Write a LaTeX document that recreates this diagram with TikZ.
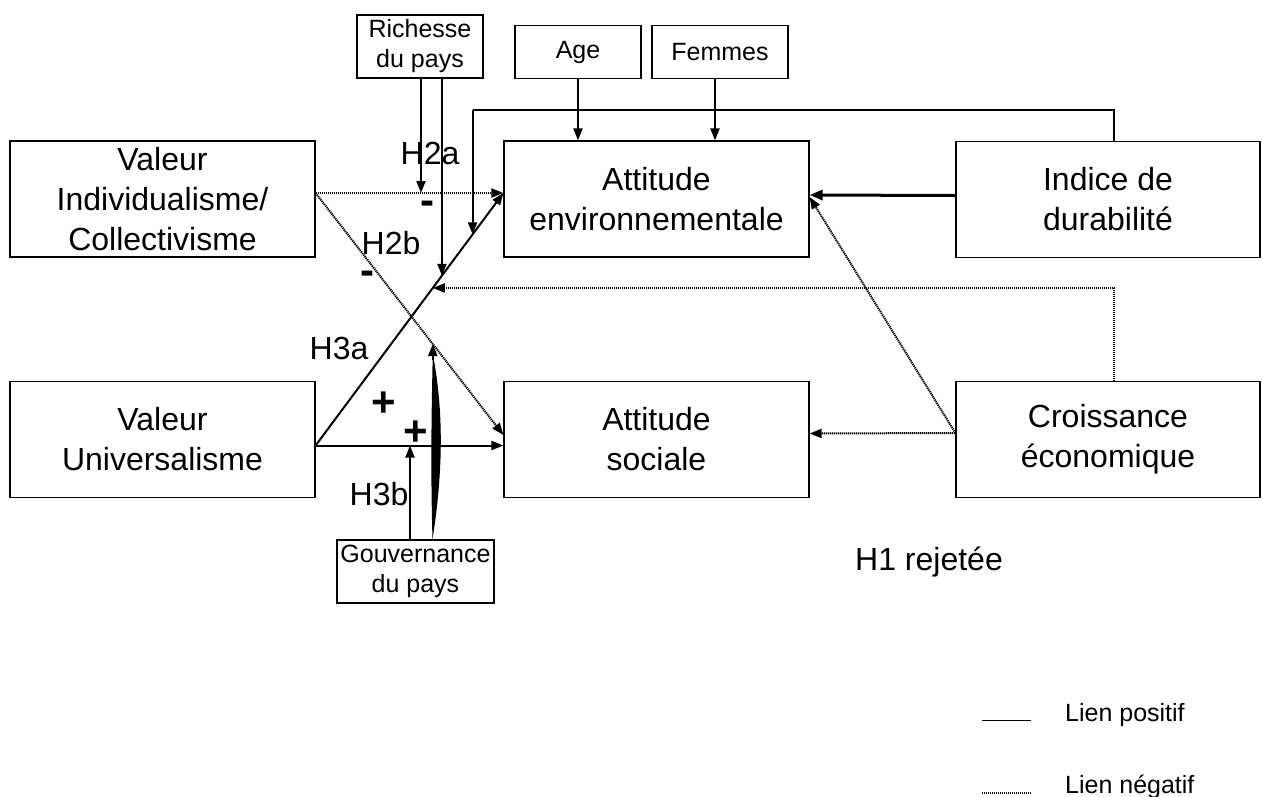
\documentclass[tikz,border=0pt]{standalone}
\usepackage{fontspec}
\setmainfont{Liberation Sans}
\usetikzlibrary{arrows.meta,calc}
\begin{document}
\begin{tikzpicture}[x=1pt,y=-1pt,
  bigbox/.style={draw, line width=1.2pt, minimum width=305pt, minimum height=116pt, align=center, font=\fontsize{32}{40}\selectfont, inner sep=0pt},
  smallbox/.style={draw, line width=1.2pt, align=center, font=\fontsize{25}{30}\selectfont, inner sep=0pt},
  arr/.style={line width=2pt, -{Triangle[length=12pt,width=9pt]}},
  dotline/.style={line width=2pt, dash pattern=on 1.2pt off 0.8pt},
  dotarr/.style={dotline, -{Triangle[length=12pt,width=9pt]}},
  lbl/.style={font=\fontsize{32}{38}\selectfont, inner sep=0pt},
  sign/.style={font=\fontsize{42}{42}\selectfont\bfseries, inner sep=0pt, anchor=base},
  legtext/.style={font=\fontsize{25}{30}\selectfont, inner sep=0pt, anchor=base west}]
\useasboundingbox (0,0) rectangle (1263,796);

% boxes
\node[bigbox] (vic) at (162.5,199) {Valeur\\Individualisme/\\Collectivisme};
\node[bigbox] (vu) at (162.5,439.5) {Valeur\\Universalisme};
\node[bigbox] (ae) at (656.5,199) {Attitude\\environnementale};
\node[bigbox] (as) at (656.5,439.5) {Attitude\\sociale};
\node[bigbox, minimum width=304pt] (ind) at (1108,199.5) {Indice de\\durabilité};
\node[bigbox, minimum width=304pt] (cro) at (1108,439.5) {Croissance\\économique};
\node[smallbox, minimum width=126pt, minimum height=63pt] (rich) at (420,46.5) {Richesse\\du pays};
\node[smallbox, minimum width=126pt, minimum height=53pt] (age) at (578,52) {Age};
\node[smallbox, minimum width=136pt, minimum height=53pt] (fem) at (720,52) {Femmes};
\node[smallbox, minimum width=157pt, minimum height=63pt] (gov) at (415.5,571.5) {Gouvernance\\du pays};

% helper coordinates
\coordinate (vicA) at ([yshift=6pt]vic.east);
\coordinate (aeA) at ([yshift=6pt]ae.west);
\coordinate (vuA) at ([yshift=-6pt]vu.east);
\coordinate (asA) at ([yshift=-6pt]as.west);
\coordinate (asB) at ([yshift=4.5pt]as.west);
\coordinate (h2b) at ($(vuA)!0.672!(aeA)$);
\coordinate (fb) at ($(vuA)!0.836!(aeA)$);
\coordinate (cg) at ($(vuA)!0.624!(aeA)$);
\coordinate (lensT) at ($(vicA)!0.624!(asB)$);
\coordinate (topY) at (0,110);
\coordinate (r1) at ([xshift=1pt]rich.south);
\coordinate (r2) at ([xshift=22pt]rich.south);
\coordinate (g1) at ([xshift=-5.5pt]gov.north);
\coordinate (g2) at ([xshift=17pt]gov.north);
\coordinate (indN) at ([xshift=6pt]ind.north);
\coordinate (croN) at ([xshift=6pt]cro.north);
\coordinate (fs) at ([xshift=-5pt]fem.south);
\coordinate (indW) at ([yshift=4pt]ind.west);
\coordinate (aeE) at ([yshift=4pt]ae.east);
\coordinate (aeE2) at ([yshift=2pt]ae.east);
\coordinate (croW) at ([yshift=6.5pt]cro.west);
\coordinate (asE) at ([yshift=6pt]as.east);

% connectors
\draw[dotarr] (vicA) -- (aeA);
\draw[dotarr] (vicA) -- (asB);
\draw[arr] (vuA) -- (aeA);
\draw[arr] (vuA) -- (asA);
\draw[arr] (r1) -- (r1 |- vicA);
\draw[arr] (r2) -- (r2 |- h2b);
\draw[line width=1.2pt] (indN) |- (fb |- topY);
\draw[arr] (fb |- topY) -- (fb);
\draw[dotarr] (croN) |- (cg);
\draw[arr] (g1) -- (g1 |- vuA);
\fill (g2) .. controls ($(g2)+(11,-70)$) and ($(g2)+(11,-130)$) .. ($(lensT)+(0,10)$)
      .. controls ($(g2)+(-1,-130)$) and ($(g2)+(-2,-70)$) .. (g2) -- cycle;
\draw[arr] ($(lensT)+(0,16)$) -- (lensT);
\draw[line width=3pt, -{Triangle[length=13pt,width=10pt]}] (indW) -- (aeE);
\draw[dotarr] (croW) -- (aeE2);
\draw[dotarr] (croW) -- (asE);
\draw[arr] (age.south) -- (age.south |- ae.north);
\draw[arr] (fs) -- (fs |- ae.north);

% labels
\node[lbl] (lh2a) at (430,153) {H2a};
\node[sign] (sm1) at (427,214) {\smash{-}};
\node[lbl] (lh2b) at (391,243) {H2b};
\node[sign] (sm2) at (367,284) {\smash{-}};
\node[lbl] (lh3a) at (339,348) {H3a};
\node[sign] (sp1) at (384,416) {\smash{+}};
\node[sign] (sp2) at (416,445) {\smash{+}};
\node[lbl] (lh3b) at (379,494) {H3b};
\node[lbl, anchor=base west] (lh1) at (855,570) {H1 rejetée};

% legend
\coordinate (lp1) at (982,720);
\coordinate (lp2) at (1031,720);
\draw[line width=1pt] (lp1) -- (lp2);
\node[legtext] (lpos) at (1065,721) {Lien positif};
\coordinate (ln1) at (982,793);
\coordinate (ln2) at (1031,793);
\draw[dotline] (ln1) -- (ln2);
\node[legtext] (lneg) at (1065,793) {Lien négatif};
\end{tikzpicture}
\end{document}
